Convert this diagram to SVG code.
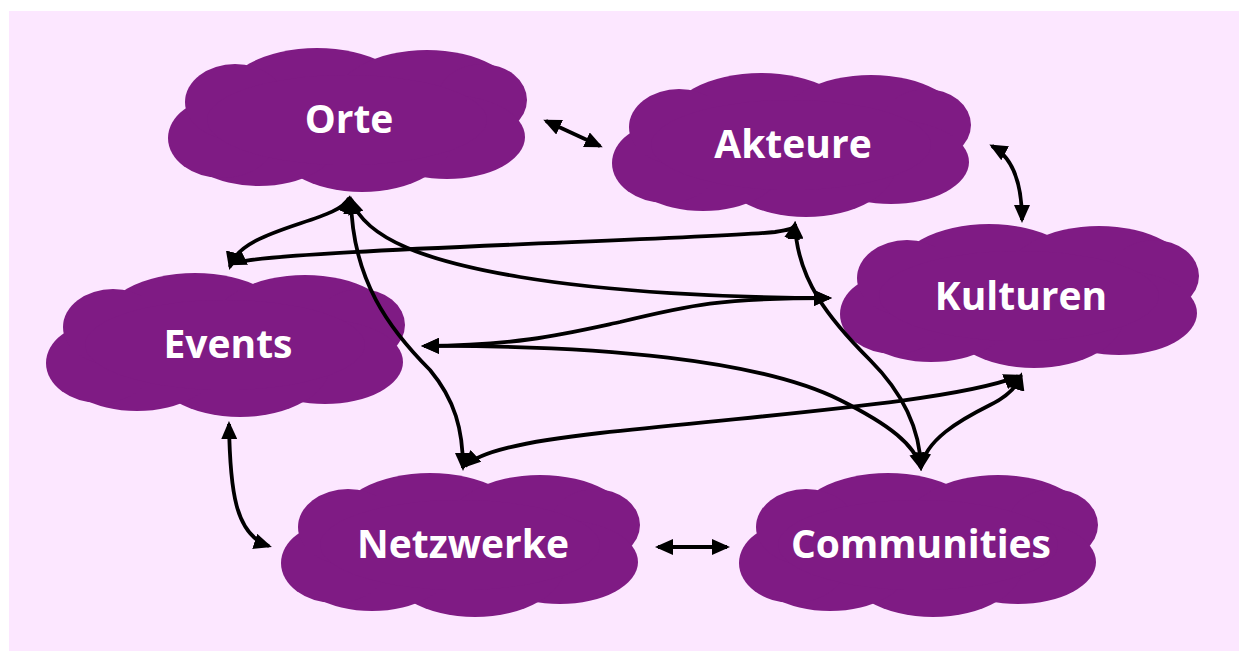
<svg xmlns="http://www.w3.org/2000/svg" xmlns:xlink="http://www.w3.org/1999/xlink" width="1239" height="651" viewBox="0 0 1239 651">
<style>
.node-label{font-family:"Open Sans","Noto Sans","Liberation Sans",sans-serif;font-weight:700;font-size:39px;fill:#ffffff;text-anchor:middle}
.edge{fill:none;stroke:#000000;stroke-width:3.8;marker-start:url(#arrow);marker-end:url(#arrow)}
.cloud{fill:#7f1b84}
</style>
<defs>
<marker id="arrow" markerUnits="userSpaceOnUse" markerWidth="18" markerHeight="16" viewBox="0 0 18 16" refX="15" refY="8" orient="auto-start-reverse">
<path d="M0,0 L18,8 L0,16 z" fill="#000000"/>
</marker>
<g id="cloud" class="cloud">
<ellipse cx="-30" cy="-20" rx="95" ry="52"/>
<ellipse cx="80" cy="-20" rx="92" ry="50"/>
<ellipse cx="135" cy="-20" rx="45" ry="36"/>
<ellipse cx="100" cy="17" rx="78" ry="42"/>
<ellipse cx="15" cy="20" rx="90" ry="52"/>
<ellipse cx="-88" cy="20" rx="80" ry="46"/>
<ellipse cx="-125" cy="18" rx="54" ry="40"/>
<ellipse cx="-112" cy="-18" rx="50" ry="38"/>
<ellipse cx="0" cy="0" rx="140" ry="45"/>
</g>
</defs>
<rect x="0" y="0" width="1239" height="651" fill="#ffffff"/>
<rect x="9" y="11" width="1230" height="640" fill="#fce7ff"/>

<g id="node-orte">
<use xlink:href="#cloud" href="#cloud" transform="translate(347,120)"/>
<text class="node-label" x="349" y="133">Orte</text>
</g>
<g id="node-akteure">
<use xlink:href="#cloud" href="#cloud" transform="translate(791,145)"/>
<text class="node-label" x="793" y="158">Akteure</text>
</g>
<g id="node-kulturen">
<use xlink:href="#cloud" href="#cloud" transform="translate(1019,296)"/>
<text class="node-label" x="1021" y="310">Kulturen</text>
</g>
<g id="node-events">
<use xlink:href="#cloud" href="#cloud" transform="translate(225,345)"/>
<text class="node-label" x="228" y="358">Events</text>
</g>
<g id="node-netzwerke">
<use xlink:href="#cloud" href="#cloud" transform="translate(460,545)"/>
<text class="node-label" x="463" y="558">Netzwerke</text>
</g>
<g id="node-communities">
<use xlink:href="#cloud" href="#cloud" transform="translate(918,545)"/>
<text class="node-label" x="921" y="558">Communities</text>
</g>

<g id="connectors">
<path class="edge" d="M546,121 L600,146"/>
<path class="edge" d="M992,146 C1012,157 1022,180 1022,220"/>
<path class="edge" d="M349,198 C340,222 240,228 230,267"/>
<path class="edge" d="M231,264 C260,250 700,240 775,232 C788,230 794,229 795,224"/>
<path class="edge" d="M351,199 C365,240 430,262 520,277 S730,298 829,298"/>
<path class="edge" d="M351,199 C352,280 390,330 430,370 C455,400 463,430 463,468"/>
<path class="edge" d="M424,346 C520,345 560,335 620,322 C690,305 720,298 829,298"/>
<path class="edge" d="M424,346 C600,345 760,360 840,400 C890,425 915,445 921,468"/>
<path class="edge" d="M795,224 C797,280 830,320 870,360 C905,395 920,430 921,468"/>
<path class="edge" d="M921,468 C925,440 960,420 990,405 C1010,395 1018,385 1021,375"/>
<path class="edge" d="M465,466 C480,452 520,442 600,433 C800,412 960,400 1019,376"/>
<path class="edge" d="M229,424 C230,490 235,535 269,546"/>
<path class="edge" d="M658,547 L727,547"/>
</g>
</svg>
